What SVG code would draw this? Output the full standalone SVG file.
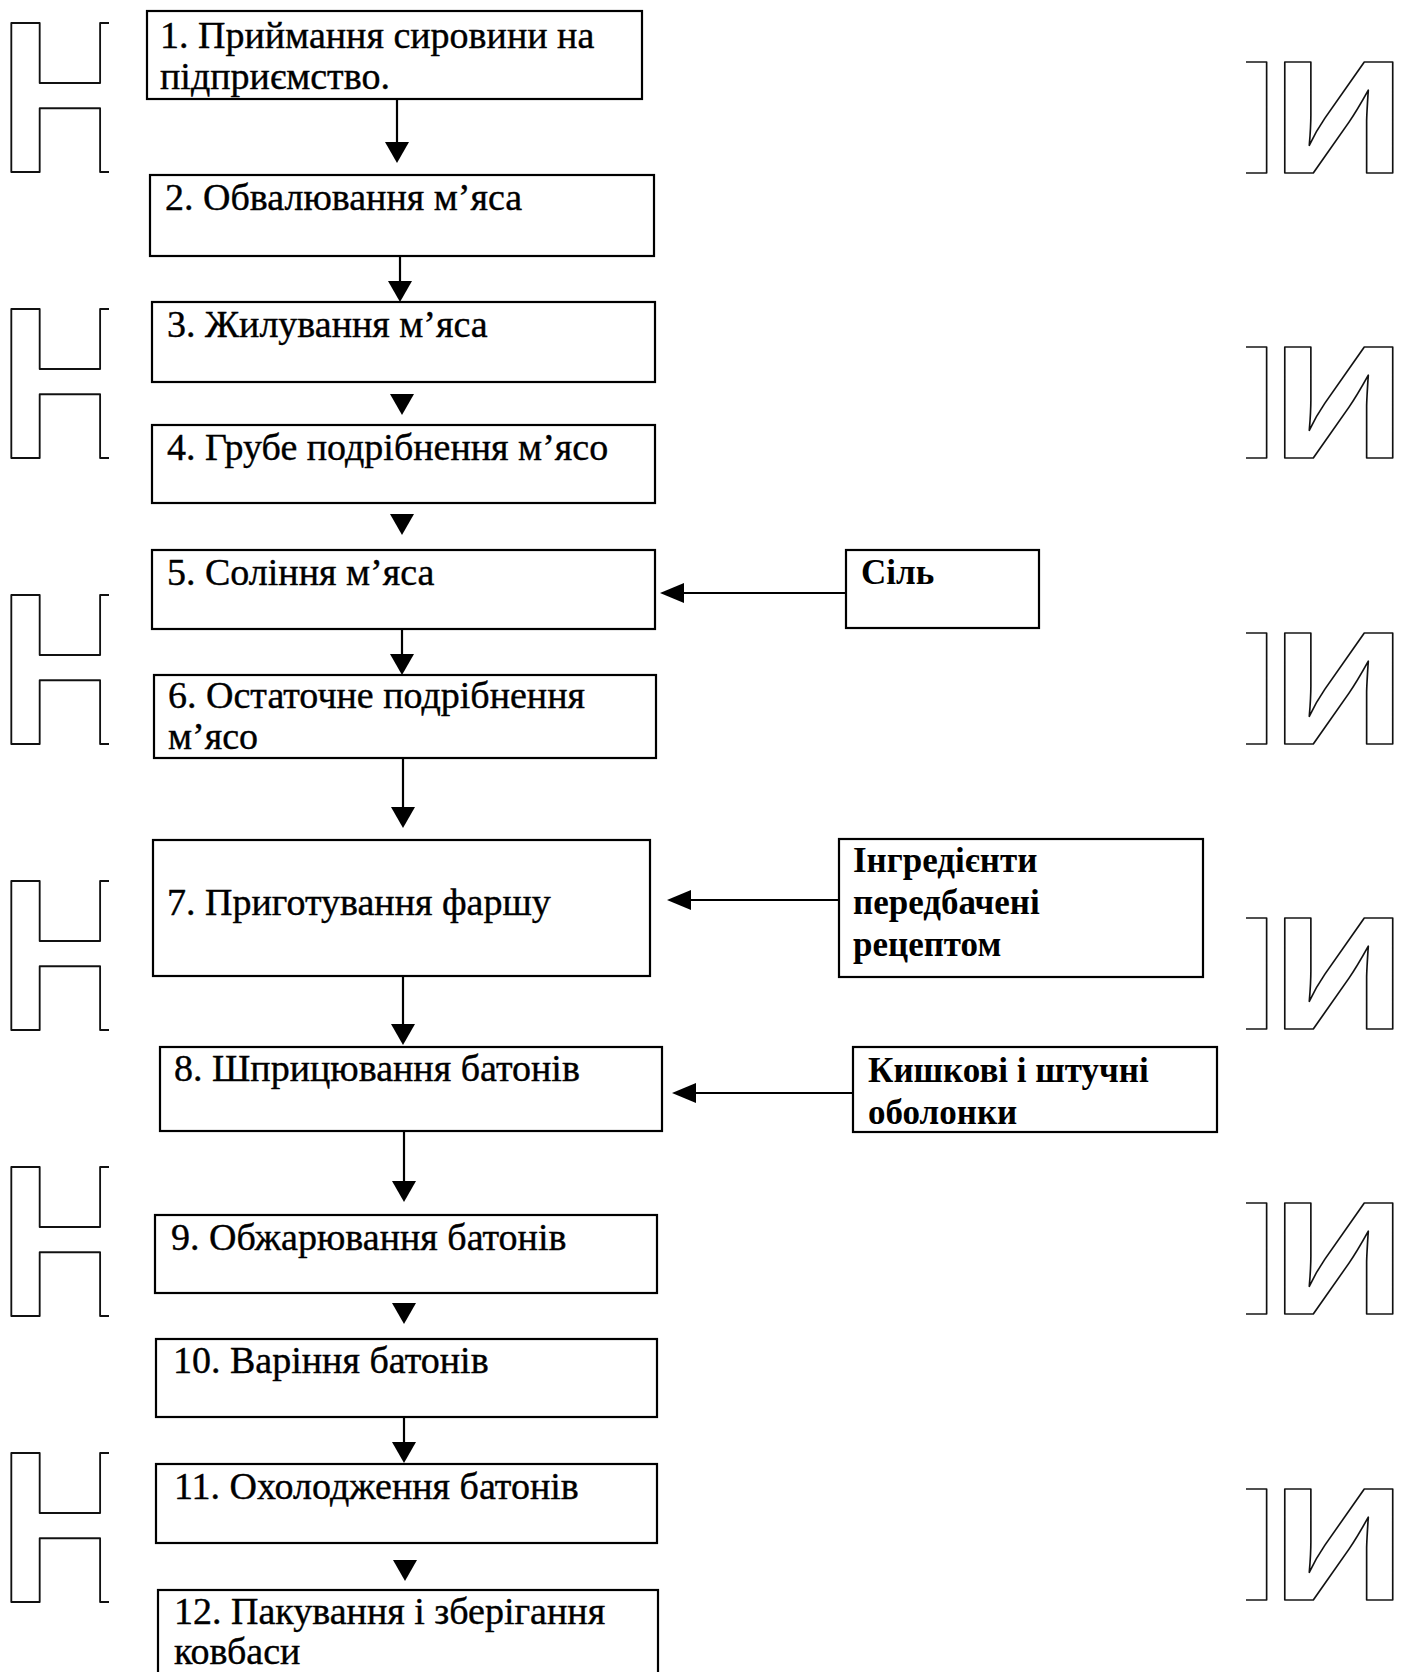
<svg xmlns="http://www.w3.org/2000/svg" width="1408" height="1672" viewBox="0 0 1408 1672">
<style>
.box{fill:#fff;stroke:#000;stroke-width:2.2}
.t{font-family:"Liberation Serif","Times New Roman",serif;font-size:38px;fill:#000;stroke:#000;stroke-width:0.4}
.tb{font-family:"Liberation Serif","Times New Roman",serif;font-size:35px;font-weight:bold;fill:#000}
.ln{stroke:#000;stroke-width:2.2;fill:none}
.ah{fill:#000}
.wm{font-family:Inter,"DejaVu Sans",sans-serif;font-weight:700;font-size:205px;fill:none;stroke:#111;stroke-width:2;stroke-linejoin:round}
</style>
<defs>
<clipPath id="cl"><rect x="0" y="0" width="109" height="1672"/></clipPath>
<clipPath id="cr"><rect x="1246" y="0" width="162" height="1672"/></clipPath>
<path id="ad" d="M-12,-21 L12,-21 L0,0 Z"/>
<path id="al" d="M0,0 L24,-10 L24,10 Z"/>
</defs>
<g id="watermark-left" clip-path="url(#cl)">
<text class="wm" transform="translate(-1.3,172) scale(0.93,1)">Н</text>
<text class="wm" transform="translate(-1.3,458) scale(0.93,1)">Н</text>
<text class="wm" transform="translate(-1.3,744) scale(0.93,1)">Н</text>
<text class="wm" transform="translate(-1.3,1030) scale(0.93,1)">Н</text>
<text class="wm" transform="translate(-1.3,1316) scale(0.93,1)">Н</text>
<text class="wm" transform="translate(-1.3,1602) scale(0.93,1)">Н</text>
</g>
<g id="watermark-right" clip-path="url(#cr)">
<text class="wm" transform="translate(1150,173) scale(0.835,0.745)">Н<tspan dx="-5.2">И</tspan></text>
<text class="wm" transform="translate(1150,458) scale(0.835,0.745)">Н<tspan dx="-5.2">И</tspan></text>
<text class="wm" transform="translate(1150,744) scale(0.835,0.745)">Н<tspan dx="-5.2">И</tspan></text>
<text class="wm" transform="translate(1150,1029) scale(0.835,0.745)">Н<tspan dx="-5.2">И</tspan></text>
<text class="wm" transform="translate(1150,1314) scale(0.835,0.745)">Н<tspan dx="-5.2">И</tspan></text>
<text class="wm" transform="translate(1150,1600) scale(0.835,0.745)">Н<tspan dx="-5.2">И</tspan></text>
</g>
<g id="connectors">
<line class="ln" x1="397" y1="99" x2="397" y2="145"/><use href="#ad" x="397" y="163"/>
<line class="ln" x1="400" y1="256" x2="400" y2="284"/><use href="#ad" x="400" y="302"/>
<use href="#ad" x="402" y="415"/>
<use href="#ad" x="402" y="535"/>
<line class="ln" x1="402" y1="629" x2="402" y2="657"/><use href="#ad" x="402" y="675"/>
<line class="ln" x1="403" y1="758" x2="403" y2="810"/><use href="#ad" x="403" y="828"/>
<line class="ln" x1="403" y1="976" x2="403" y2="1027"/><use href="#ad" x="403" y="1045"/>
<line class="ln" x1="404" y1="1131" x2="404" y2="1183"/><use href="#ad" x="404" y="1202"/>
<use href="#ad" x="404" y="1324"/>
<line class="ln" x1="404" y1="1417" x2="404" y2="1445"/><use href="#ad" x="404" y="1463"/>
<use href="#ad" x="405" y="1581"/>
<line class="ln" x1="846" y1="593" x2="682" y2="593"/><use href="#al" x="660" y="593"/>
<line class="ln" x1="839" y1="900" x2="689" y2="900"/><use href="#al" x="667" y="900"/>
<line class="ln" x1="853" y1="1093" x2="694" y2="1093"/><use href="#al" x="672" y="1093"/>
</g>
<g id="n1"><rect class="box" x="147" y="11" width="495" height="88"/><text class="t" x="160" y="48">1. Приймання сировини на</text><text class="t" x="160" y="89">підприємство.</text></g>
<g id="n2"><rect class="box" x="150" y="175" width="504" height="81"/><text class="t" x="165" y="210">2. Обвалювання м’яса</text></g>
<g id="n3"><rect class="box" x="152" y="302" width="503" height="80"/><text class="t" x="167" y="337">3. Жилування м’яса</text></g>
<g id="n4"><rect class="box" x="152" y="425" width="503" height="78"/><text class="t" x="167" y="460">4. Грубе подрібнення м’ясо</text></g>
<g id="n5"><rect class="box" x="152" y="550" width="503" height="79"/><text class="t" x="167" y="585">5. Соління м’яса</text></g>
<g id="n6"><rect class="box" x="154" y="675" width="502" height="83"/><text class="t" x="168" y="708">6. Остаточне подрібнення</text><text class="t" x="168" y="749">м’ясо</text></g>
<g id="n7"><rect class="box" x="153" y="840" width="497" height="136"/><text class="t" x="167" y="915">7. Приготування фаршу</text></g>
<g id="n8"><rect class="box" x="160" y="1047" width="502" height="84"/><text class="t" x="174" y="1081">8. Шприцювання батонів</text></g>
<g id="n9"><rect class="box" x="155" y="1215" width="502" height="78"/><text class="t" x="171" y="1250">9. Обжарювання батонів</text></g>
<g id="n10"><rect class="box" x="156" y="1339" width="501" height="78"/><text class="t" x="173" y="1373">10. Варіння батонів</text></g>
<g id="n11"><rect class="box" x="156" y="1464" width="501" height="79"/><text class="t" x="174" y="1499">11. Охолодження батонів</text></g>
<g id="n12"><rect class="box" x="158" y="1590" width="500" height="110"/><text class="t" x="174" y="1624">12. Пакування і зберігання</text><text class="t" x="174" y="1664">ковбаси</text></g>
<g id="salt"><rect class="box" x="846" y="550" width="193" height="78"/><text class="tb" x="861" y="584">Сіль</text></g>
<g id="ingredients"><rect class="box" x="839" y="839" width="364" height="138"/><text class="tb" x="853" y="872">Інгредієнти</text><text class="tb" x="853" y="914">передбачені</text><text class="tb" x="853" y="956">рецептом</text></g>
<g id="casings"><rect class="box" x="853" y="1047" width="364" height="85"/><text class="tb" x="868" y="1082">Кишкові і штучні</text><text class="tb" x="868" y="1124">оболонки</text></g>
</svg>
